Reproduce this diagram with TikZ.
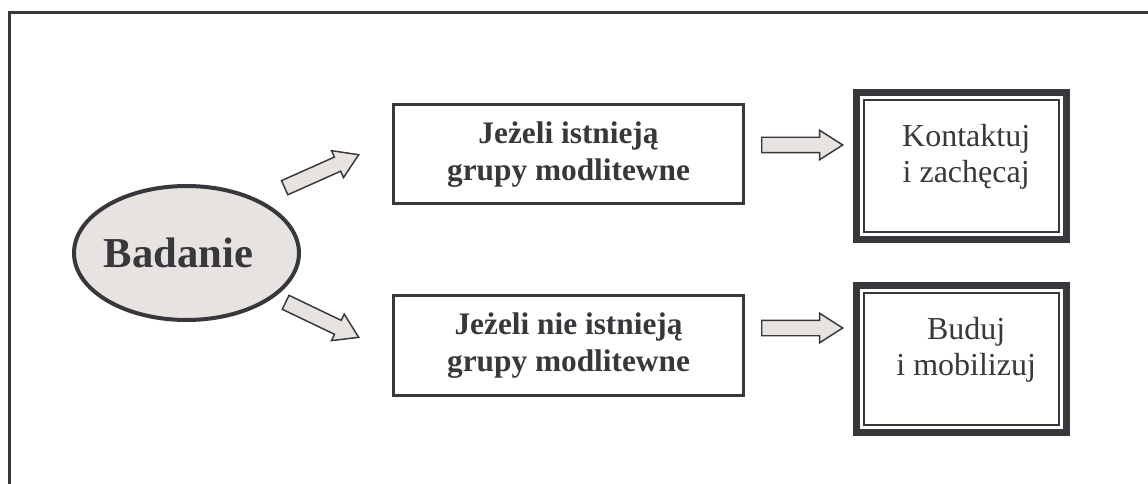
\documentclass[tikz,border=0pt]{standalone}
\usepackage{fontspec}
\setmainfont{Liberation Serif}
\usepackage{xcolor}
\usetikzlibrary{shapes,arrows,positioning}

\definecolor{ink}{HTML}{38373B}
\definecolor{shade}{HTML}{E6E3E0}

\begin{document}
\begin{tikzpicture}[
    x=0.75pt, y=-0.75pt,
    survey/.style={ellipse, draw=ink, fill=shade, line width=3pt, inner sep=0pt, minimum width=168.75pt, minimum height=100.5pt, text=ink, font=\fontsize{32}{36}\selectfont\bfseries},
    cond/.style={rectangle, draw=ink, line width=2.25pt, minimum width=262.5pt, minimum height=74.25pt, align=center, text=ink, font=\fontsize{23.5}{28}\selectfont\bfseries},
    action/.style={rectangle, draw=ink, line width=5.25pt, minimum width=157.5pt, minimum height=110.25pt},
    actiontext/.style={align=center, text=ink, font=\fontsize{24}{27.5}\selectfont, xshift=3.5pt, yshift=7pt},
    blockarrow/.style={single arrow, draw=ink, fill=shade, line width=1.1pt, inner sep=0pt, inner ysep=5.25pt, minimum width=21pt, minimum height=60.75pt, single arrow head extend=5.25pt, single arrow tip angle=65, sloped, pos=0, anchor=tail}
]
\useasboundingbox (0,0) rectangle (1148,484);
\draw[ink, line width=2.25pt] (9,484) |- (1148,12.5);

\node[survey] (badanie) at (186.5,253) {\hspace*{-12pt}Badanie};
\node[cond] (ifyes) at (568.5,154.5) {Jeżeli istnieją\\grupy modlitewne};
\node[cond, below=66.75pt of ifyes] (ifno) {Jeżeli nie istnieją\\grupy modlitewne};
\node[action, label={[actiontext]center:Kontaktuj\\i zachęcaj}] (contact) at (961.5,166) {};
\node[action, below=29.25pt of contact, label={[actiontext]center:Buduj\\i mobilizuj}] (build) {};

% inner lines of the action boxes
\foreach \n in {contact,build}
    \draw[ink, line width=1.3pt] ([shift={(11,11)}]\n.north west) rectangle ([shift={(-11,-11)}]\n.south east);

% ends of the block arrows
\coordinate (yestail) at (284,188);
\coordinate (yestip) at (358,155);
\coordinate (notail) at (285,302);
\coordinate (notip) at (358,337);
\coordinate (contacttail) at (761,145);
\coordinate (contacttip) at (842,145);
\coordinate (buildtail) at (761,328);
\coordinate (buildtip) at (842,328);

\path (yestail) -- node[blockarrow] (toyes) {} (yestip);
\path (notail) -- node[blockarrow] (tono) {} (notip);
\path (contacttail) -- node[blockarrow] (tocontact) {} (contacttip);
\path (buildtail) -- node[blockarrow] (tobuild) {} (buildtip);
\end{tikzpicture}
\end{document}
